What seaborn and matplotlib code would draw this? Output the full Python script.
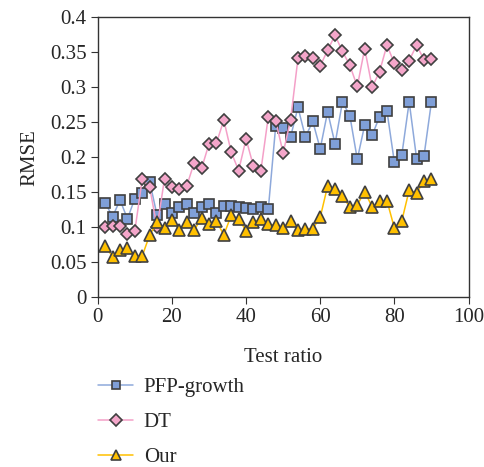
import pandas as pd
import matplotlib
matplotlib.use("Agg")
import matplotlib.pyplot as plt
import seaborn as sns

# test ratio values (x)
test_ratio = list(range(2, 92, 2))

pfp_growth = [0.135, 0.115, 0.139, 0.112, 0.141, 0.149, 0.165, 0.117, 0.133, 0.121,
              0.129, 0.133, 0.121, 0.129, 0.133, 0.121, 0.131, 0.130, 0.129, 0.127,
              0.126, 0.129, 0.126, 0.245, 0.241, 0.229, 0.271, 0.229, 0.251, 0.212,
              0.265, 0.219, 0.279, 0.259, 0.197, 0.246, 0.231, 0.258, 0.266, 0.193,
              0.203, 0.279, 0.198, 0.202, 0.279]

dt = [0.101, 0.102, 0.102, 0.090, 0.095, 0.169, 0.157, 0.100, 0.169, 0.158,
      0.155, 0.159, 0.192, 0.184, 0.219, 0.220, 0.253, 0.207, 0.181, 0.226,
      0.187, 0.181, 0.258, 0.252, 0.206, 0.253, 0.341, 0.344, 0.342, 0.330,
      0.353, 0.374, 0.351, 0.331, 0.301, 0.355, 0.300, 0.322, 0.360, 0.334,
      0.324, 0.338, 0.360, 0.339, 0.340]

our = [0.073, 0.058, 0.067, 0.070, 0.059, 0.059, 0.089, 0.107, 0.099, 0.110,
       0.096, 0.108, 0.096, 0.113, 0.104, 0.109, 0.089, 0.117, 0.112, 0.095,
       0.107, 0.112, 0.104, 0.103, 0.099, 0.109, 0.096, 0.098, 0.098, 0.114,
       0.159, 0.155, 0.144, 0.129, 0.132, 0.151, 0.129, 0.137, 0.138, 0.099,
       0.109, 0.153, 0.149, 0.166, 0.169]

series = [
    ("PFP-growth", pfp_growth, "s", 7.0, "#8EA9DB", "#7F9FD8"),
    ("DT", dt, "D", 6.5, "#F4A0C8", "#F4A6CA"),
    ("Our", our, "^", 8.5, "#FFC000", "#FFC000"),
]

sns.set_style("ticks")
plt.rcParams["font.family"] = ["Liberation Serif", "DejaVu Serif"]

fig = plt.figure(figsize=(4.84, 4.67), dpi=100)
ax = fig.add_axes([0.202, 0.3634, 0.766, 0.6])
for name, vals, mk, ms, lc, fc in series:
    df = pd.DataFrame({"x": test_ratio, "y": vals})
    sns.lineplot(data=df, x="x", y="y", ax=ax, color=lc, linewidth=1.1,
                 marker=mk, markersize=ms, markerfacecolor=fc,
                 markeredgecolor="#404040", markeredgewidth=1.2, label=name)

ax.set_xlim(0, 100)
ax.set_ylim(0, 0.4)
ax.set_xticks([0, 20, 40, 60, 80, 100])
ax.set_yticks([0, 0.05, 0.1, 0.15, 0.2, 0.25, 0.3, 0.35, 0.4])
ax.set_yticklabels(["0", "0.05", "0.1", "0.15", "0.2", "0.25", "0.3", "0.35", "0.4"])
ax.tick_params(labelsize=15, direction="out", length=5, color="#333333", pad=3)
ax.set_xlabel("Test ratio", fontsize=15, labelpad=15)
ax.set_ylabel("RMSE", fontsize=15, labelpad=8)
for s in ax.spines.values():
    s.set_color("#333333")
    s.set_linewidth(1.0)

handles, labels = ax.get_legend_handles_labels()
ax.get_legend().remove()
fig.legend(handles, labels, loc="upper left", bbox_to_anchor=(0.185, 0.21),
           frameon=False, fontsize=15, handlelength=1.7, labelspacing=0.75,
           handletextpad=0.5, borderaxespad=0, markerscale=0.9)

fig.savefig("out.png", dpi=100)
